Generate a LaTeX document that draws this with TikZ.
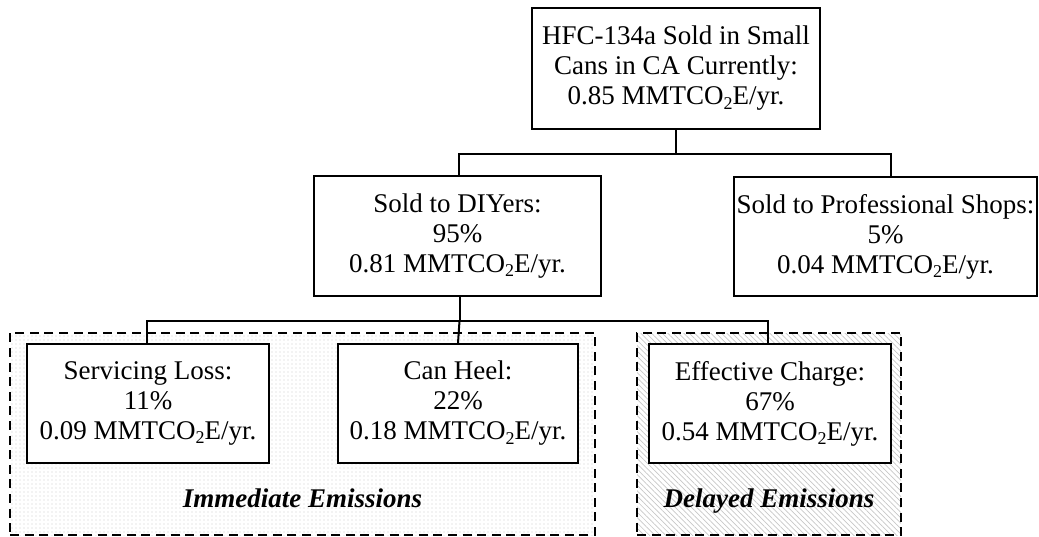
\documentclass[tikz,border=0pt]{standalone}
\usepackage{fontspec}
\setmainfont{Liberation Serif}
\usetikzlibrary{patterns.meta,calc}
\newcommand{\subtwo}{\raisebox{-0.35ex}{\fontsize{9}{9}\selectfont 2}}
\begin{document}
\begin{tikzpicture}[x=0.5pt,y=-0.5pt,
  box/.style={draw=black,line width=1pt,fill=white,align=center,inner sep=0pt,
    font=\fontsize{13.5}{15}\selectfont},
  conn/.style={draw=black,line width=1pt},
  region/.style={draw=black,line width=1pt,dash pattern=on 4.5pt off 2.8pt,inner sep=0pt},
  dotsfill/.style={pattern={Dots[distance=2pt,radius=0.34pt]},pattern color=black!20},
  hatchfill/.style={pattern={Lines[distance=1.9pt,angle=-45,line width=0.35pt]},pattern color=black!22},
  emlabel/.style={anchor=base,font=\fontsize{13.5}{15}\selectfont\bfseries\itshape}
]
\useasboundingbox (0,0) rectangle (1039,536);
% regions
\node[region,dotsfill,minimum width=292.5pt,minimum height=101pt] (imm) at (302.5,434) {};
\node[region,hatchfill,minimum width=132pt,minimum height=101pt] (del) at (769,434) {};
\node[emlabel] (immlab) at (302.5,507) {Immediate Emissions};
\node[emlabel] (dellab) at (769,507) {Delayed Emissions};
% boxes
\node[box,minimum width=144pt,minimum height=60.5pt] (top) at (676,68.5)
  {HFC-134a Sold in Small\\Cans in CA Currently:\\0.85 MMTCO\subtwo E/yr.};
\node[box,minimum width=143.5pt,minimum height=60pt] (diy) at (457.5,236)
  {Sold to DIYers:\\95\%\\0.81 MMTCO\subtwo E/yr.};
\node[box,minimum width=151.5pt,minimum height=59.5pt] (pro) at (885.5,236.5)
  {Sold to Professional Shops:\\5\%\\0.04 MMTCO\subtwo E/yr.};
\node[box,minimum width=121pt,minimum height=59.5pt] (serv) at (148,403.5)
  {Servicing Loss:\\11\%\\0.09 MMTCO\subtwo E/yr.};
\node[box,minimum width=120pt,minimum height=59.5pt] (heel) at (458,403.5)
  {Can Heel:\\22\%\\0.18 MMTCO\subtwo E/yr.};
\node[box,minimum width=121pt,minimum height=59.5pt] (eff) at (770,403.5)
  {Effective Charge:\\67\%\\0.54 MMTCO\subtwo E/yr.};
% connectors
\draw[conn] (top.south) -- ++(0,24) coordinate (j1);
\draw[conn] (j1) -| ($(diy.north)+(1.5,0)$);
\draw[conn] (j1) -| ($(pro.north)+(5.5,0)$);
\draw[conn] ($(diy.south)+(2,0)$) -- ++(0,24) coordinate (j2);
\draw[conn] (j2) -| ($(serv.north)+(-1,0)$);
\draw[conn] (j2) -- (heel.north);
\draw[conn] (j2) -| ($(eff.north)+(-2,0)$);
\end{tikzpicture}
\end{document}
